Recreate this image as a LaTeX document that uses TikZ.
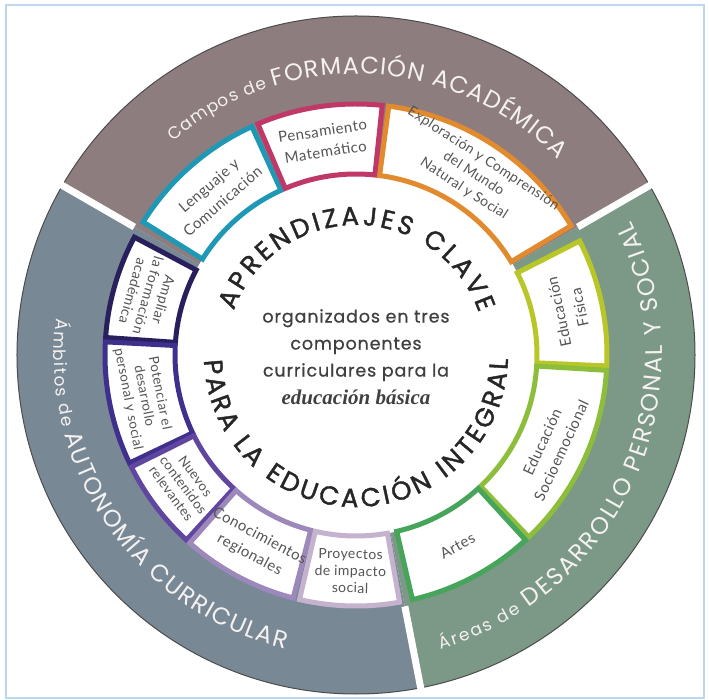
\documentclass[tikz,border=0pt]{standalone}
\usepackage{fontspec}
\setmainfont{Poppins}
\newfontfamily\labelfont[LetterSpace=3]{Lato}
\newfontfamily\centerfont[LetterSpace=5,FakeBold=0.6]{Poppins}
\newfontfamily\titlefont[FakeBold=1.5]{Poppins}
\newfontfamily\serifbold{Liberation Serif}
\usetikzlibrary{decorations.text}
\definecolor{campos}{RGB}{141,125,126}
\definecolor{ambitos}{RGB}{121,136,149}
\definecolor{areas}{RGB}{124,152,134}
\definecolor{lenguaje}{RGB}{30,152,180}
\definecolor{pensamiento}{RGB}{192,56,104}
\definecolor{exploracion}{RGB}{226,138,46}
\definecolor{fisica}{RGB}{184,198,40}
\definecolor{socioemocional}{RGB}{140,190,60}
\definecolor{artes}{RGB}{70,165,90}
\definecolor{ampliar}{RGB}{40,32,92}
\definecolor{potenciar}{RGB}{62,48,140}
\definecolor{nuevos}{RGB}{96,70,160}
\definecolor{conocimientos}{RGB}{156,136,186}
\definecolor{proyectos}{RGB}{196,178,206}
\definecolor{boxtext}{RGB}{85,85,85}
\definecolor{ringtext}{RGB}{245,241,241}
\definecolor{frame}{RGB}{190,215,240}
\tikzset{
    box-label/.style = {font=\labelfont\fontsize{15}{21}\selectfont, text=boxtext, align=center, inner sep=0pt},
    center-text/.style = {font=\centerfont\fontsize{17.5}{27}\selectfont, text=black!75, align=center, inner sep=0pt},
    arc-text/.style = {decorate, decoration={text along path, text align={fit to path}, text color=#1}},
    ring-box/.style = {line width=5pt, fill=white},
}

\begin{document}
\begin{tikzpicture}[x=1pt,y=1pt]
\useasboundingbox (-356,-345) rectangle (353,355);
\draw[frame, line width=2pt] (-350,350) rectangle (348,-343);

% three outer fields
\fill[campos] (0,0) -- (30:339pt) arc[start angle=30, end angle=150, radius=339pt] -- cycle;
\fill[ambitos] (0,0) -- (150:339pt) arc[start angle=150, end angle=281, radius=339pt] -- cycle;
\fill[areas] (0,0) -- (281:339pt) arc[start angle=281, end angle=390, radius=339pt] -- cycle;
\draw[black!70, line width=1pt] (0,0) circle[radius=339pt];
\foreach \a in {30,150,281}
    \draw[white, line width=7pt] (\a:256pt) -- (\a:342pt);
\fill[white] (0,0) circle[radius=181pt];

% components
\foreach \a/\b/\c in {114.5/148/lenguaje, 84/113/pensamiento, 31/82.5/exploracion,
    -2.5/27/fisica, -46.5/-3.5/socioemocional, -77/-47.5/artes,
    152/176/ampliar, 177/205.5/potenciar, 206.5/227.5/nuevos, 228.5/255.5/conocimientos, 257/280/proyectos}
    \draw[ring-box, draw=\c] (\a:181pt) arc[start angle=\a, end angle=\b, radius=181pt]
        -- (\b:251pt) arc[start angle=\b, end angle=\a, radius=251pt] -- cycle;

\node[box-label, rotate=41] (lenguaje-label) at (131:214pt) {Lenguaje y\\Comunicación};
\node[box-label, rotate=8.5] (pensamiento-label) at (98.5:216pt) {Pensamiento\\Matemático};
\node[box-label, rotate=-33, font=\labelfont\fontsize{14}{18}\selectfont] (exploracion-label) at (57:216pt) {Exploración y Comprensión\\del Mundo\\Natural y Social};
\node[box-label, rotate=102] (fisica-label) at (12:218pt) {Educación\\Física};
\node[box-label, rotate=65] (socio-label) at (-25:216pt) {Educación\\Socioemocional};
\node[box-label, rotate=28] (artes-label) at (-62:216pt) {Artes};
\node[box-label, rotate=-106, font=\labelfont\fontsize{14}{16}\selectfont] (ampliar-label) at (164:216pt) {Ampliar\\la formación\\académica};
\node[box-label, rotate=-79, font=\labelfont\fontsize{13.5}{16}\selectfont] (potenciar-label) at (191:216pt) {Potenciar el\\desarrollo\\personal y social};
\node[box-label, rotate=-53.5, font=\labelfont\fontsize{13.5}{15}\selectfont] (nuevos-label) at (217:216pt) {Nuevos\\contenidos\\relevantes};
\node[box-label, rotate=-28] (conocimientos-label) at (242:216pt) {Conocimientos\\regionales};
\node[box-label, rotate=-1, font=\labelfont\fontsize{14}{17}\selectfont] (proyectos-label) at (268.5:216pt) {Proyectos\\de impacto\\social};

% centre
\node[center-text] (centro) at (0,-2) {organizados en tres\\componentes\\curriculares para la\\[1pt]{\serifbold\bfseries\itshape\fontsize{21}{21}\selectfont educación básica}};
\path[arc-text=black!85, decoration={text={|\titlefont\fontsize{26}{26}\selectfont|APRENDIZAJES CLAVE}}]
    (160:130pt) arc[start angle=160, end angle=19, radius=130pt];
\path[arc-text=black!85, decoration={text={|\titlefont\fontsize{26}{26}\selectfont|PARA LA EDUCACIÓN INTEGRAL}}]
    (182:152pt) arc[start angle=182, end angle=358.5, radius=152pt];

% outer titles
\path[arc-text=ringtext, decoration={text={|\fontsize{17}{17}\selectfont|Campos de |\fontsize{24}{24}\selectfont|FORMACIÓN ACADÉMICA}}]
    (130.5:281pt) arc[start angle=130.5, end angle=44, radius=281pt];
\path[arc-text=ringtext, decoration={text={|\fontsize{17}{17}\selectfont|Ámbitos de |\fontsize{24}{24}\selectfont|AUTONOMÍA CURRICULAR}}]
    (173:302pt) arc[start angle=173, end angle=256.5, radius=302pt];
\path[arc-text=ringtext, decoration={text={|\fontsize{17}{17}\selectfont|Áreas de |\fontsize{24}{24}\selectfont|DESARROLLO PERSONAL Y SOCIAL}}]
    (286:306pt) arc[start angle=286, end angle=386, radius=306pt];
\end{tikzpicture}
\end{document}
